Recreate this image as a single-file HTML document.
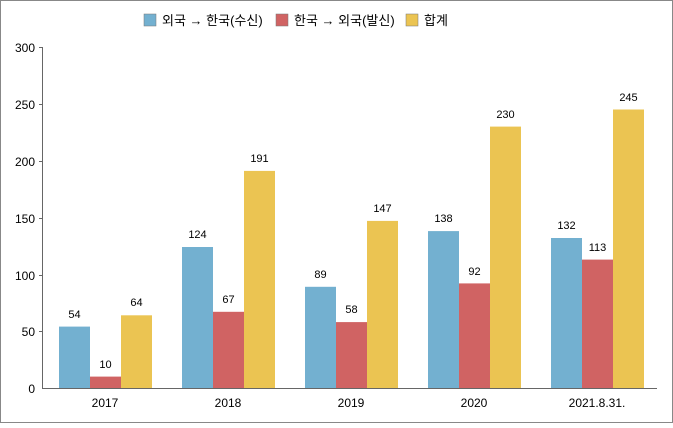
<!DOCTYPE html><html><head><style>body{margin:0;background:#fff}</style></head><body>
<svg width="673" height="423" xmlns="http://www.w3.org/2000/svg" font-family="'Liberation Sans','Noto Sans CJK KR',sans-serif" font-size="12">
<rect x="0.5" y="0.5" width="672" height="422" fill="#fff" stroke="#888"/>
<rect x="144" y="14" width="12" height="12" fill="#73b0d0" stroke="#777" stroke-width="0.5"/><text x="162" y="25" font-size="13">외국 → 한국(수신)</text>
<rect x="276" y="14" width="12" height="12" fill="#d06363" stroke="#777" stroke-width="0.5"/><text x="294" y="25" font-size="13">한국 → 외국(발신)</text>
<rect x="406" y="14" width="12" height="12" fill="#ebc452" stroke="#777" stroke-width="0.5"/><text x="424" y="25" font-size="13">합계</text>
<g fill="#73b0d0">
<rect x="59" y="326.6" width="31" height="61.4"/><rect x="182" y="247" width="31" height="141"/><rect x="305" y="286.8" width="31" height="101.2"/><rect x="428" y="231.1" width="31" height="156.9"/><rect x="551" y="238" width="31" height="150"/></g>
<g fill="#d06363">
<rect x="90" y="376.6" width="31" height="11.4"/><rect x="213" y="311.8" width="31" height="76.2"/><rect x="336" y="322.1" width="31" height="65.9"/><rect x="459" y="283.4" width="31" height="104.6"/><rect x="582" y="259.6" width="31" height="128.4"/></g>
<g fill="#ebc452">
<rect x="121" y="315.3" width="31" height="72.7"/><rect x="244" y="170.9" width="31" height="217.1"/><rect x="367" y="220.9" width="31" height="167.1"/><rect x="490" y="126.6" width="31" height="261.4"/><rect x="613" y="109.5" width="31" height="278.5"/></g>
<g stroke="#666"><line x1="42.5" y1="47" x2="42.5" y2="388"/><line x1="42" y1="388.5" x2="657" y2="388.5"/>
<line x1="39" y1="47.5" x2="42" y2="47.5"/><line x1="39" y1="104.5" x2="42" y2="104.5"/><line x1="39" y1="161.5" x2="42" y2="161.5"/><line x1="39" y1="218.5" x2="42" y2="218.5"/><line x1="39" y1="275.5" x2="42" y2="275.5"/><line x1="39" y1="331.5" x2="42" y2="331.5"/></g>
<g text-anchor="end"><text x="35" y="52">300</text><text x="35" y="109">250</text><text x="35" y="166">200</text><text x="35" y="223">150</text><text x="35" y="280">100</text><text x="35" y="336">50</text><text x="35" y="393">0</text></g>
<g text-anchor="middle" font-size="11">
<text x="74.5" y="318">54</text><text x="105.5" y="368">10</text><text x="136.5" y="306">64</text>
<text x="197.5" y="238">124</text><text x="228.5" y="303">67</text><text x="259.5" y="162">191</text>
<text x="320.5" y="278">89</text><text x="351.5" y="313">58</text><text x="382.5" y="212">147</text>
<text x="443.5" y="222">138</text><text x="474.5" y="275">92</text><text x="505.5" y="118">230</text>
<text x="566.5" y="229">132</text><text x="597.5" y="251">113</text><text x="628.5" y="101">245</text>
</g>
<g text-anchor="middle"><text x="105" y="407">2017</text><text x="228" y="407">2018</text><text x="351" y="407">2019</text><text x="474" y="407">2020</text><text x="597" y="407">2021.8.31.</text></g>
</svg></body></html>
